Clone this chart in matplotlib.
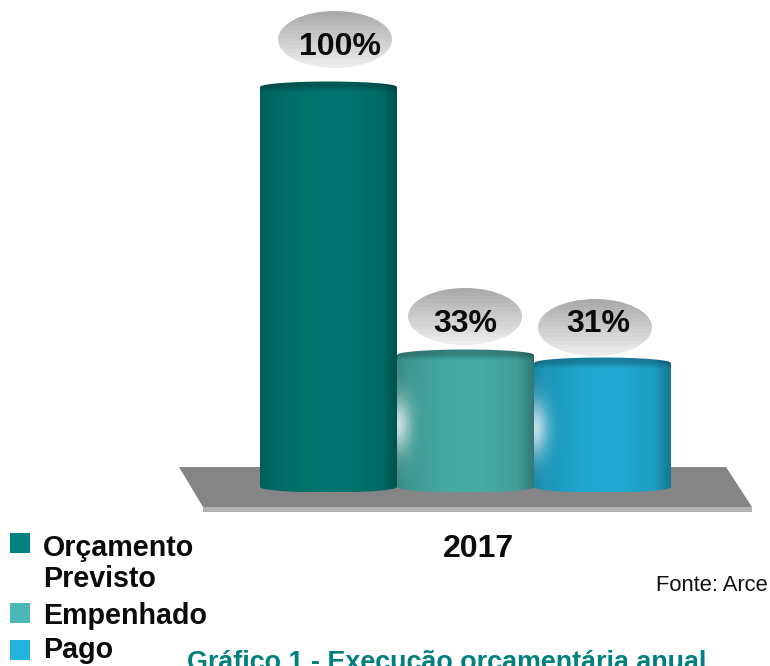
import numpy as np
import matplotlib
matplotlib.use("Agg")
import matplotlib.pyplot as plt
from matplotlib.patches import Ellipse, Polygon, Rectangle

plt.rcParams['font.family'] = ['Liberation Sans', 'DejaVu Sans']

# data
years = ["2017"]
categories = ["Orçamento\nPrevisto", "Empenhado", "Pago"]
values = [100, 33, 31]
value_labels = ["100%", "33%", "31%"]
bar_colors = [(0, 118, 112), (70, 172, 166), (32, 170, 210)]
legend_colors = ["#00807e", "#4ab8b6", "#22b4dc"]

W, H = 770, 666
BASE_PX = 487
PX_PER_VALUE = 4.0
BAR_PX = 137
FIRST_PX = 328.5
CAP_PX = 5.5

fig = plt.figure(figsize=(W / 100, H / 100), dpi=100, facecolor="white")

# pixel axes for the floor
pix = fig.add_axes([0, 0, 1, 1], zorder=1)
pix.set_xlim(0, W)
pix.set_ylim(H, 0)
pix.axis("off")

pix.add_patch(Polygon([(179, 467), (726, 467), (752, 507), (203, 507)], closed=True,
                      fc="#858585", ec="none"))
pix.add_patch(Rectangle((203, 507), 549, 5, fc="#b2b2b2", ec="none"))

# chart axes, x in bars and y in percent
ax = fig.add_axes([0, 0, 1, 1], zorder=2)
ax.patch.set_alpha(0)
ax.axis("off")

cap = CAP_PX / PX_PER_VALUE
for i, (value, color) in enumerate(zip(values, bar_colors)):
    left, right = i - 0.5, i + 0.5
    u = np.linspace(-1, 1, 137)
    arc = np.sqrt(1 - u ** 2)
    outline = list(zip(i + u / 2, value + cap * arc)) + list(zip((i + u / 2)[::-1], (-cap * arc)[::-1]))
    shape = Polygon(outline, closed=True, transform=ax.transData, fc="none", ec="none")
    ax.add_patch(shape)

    rows = np.linspace(value + cap, -cap, int((value + 2 * cap) * PX_PER_VALUE))
    uu, yy = np.meshgrid(u, rows)
    t = (uu + 1) / 2
    shade = np.interp(t, [0, 0.08, 0.35, 0.6, 0.88, 1], [0.8, 0.88, 0.98, 1.0, 0.92, 0.7])
    rgb = np.array(color)[None, None, :] * shade[:, :, None]
    # dark top of the cylinder, fades out just under the rim
    fade = np.clip((value + 0.2 - yy) / 1.6, 0, 1)
    rgb = rgb * (0.76 + 0.24 * fade[:, :, None])
    if i > 0:
        # shine on the left side of the short bars
        glow_y = value * 0.47
        d = (t / 0.1) ** 2 + ((yy - glow_y) * PX_PER_VALUE / 28) ** 2
        glow = np.exp(-d)[:, :, None] * 0.72
        rgb = rgb * (1 - glow) + 255 * glow
    im = ax.imshow(np.clip(rgb, 0, 255).astype(np.uint8), extent=(left, right, -cap, value + cap),
                   aspect="auto", interpolation="bilinear", zorder=2)
    im.set_clip_path(shape)

ax.set_xlim(-FIRST_PX / BAR_PX, (W - FIRST_PX) / BAR_PX)
ax.set_ylim(-(H - BASE_PX) / PX_PER_VALUE, BASE_PX / PX_PER_VALUE)

# top layer for the value bubbles and all text
top = fig.add_axes([0, 0, 1, 1], zorder=3)
top.patch.set_alpha(0)
top.axis("off")

bubbles = [(335, 39.5, 340), (465, 316.5, 465), (595, 327.5, 598)]
text_y = [55, 332, 332]
bands = np.linspace(170, 236, 15).reshape(-1, 1)
for (cx, cy, tx), ty, label in zip(bubbles, text_y, value_labels):
    e = Ellipse((cx, cy), 114, 57, fc="none", ec="none")
    top.add_patch(e)
    im = top.imshow(bands, cmap="gray", vmin=0, vmax=255, aspect="auto", interpolation="nearest",
                    extent=(cx - 57, cx + 57, cy + 28.5, cy - 28.5))
    im.set_clip_path(e)
    top.text(tx, ty, label, fontsize=23, fontweight="bold", color="#0a0a0a", ha="center", va="baseline")
top.set_xlim(0, W)
top.set_ylim(H, 0)

top.text(478, 557, years[0], fontsize=23, fontweight="bold", color="#0a0a0a", ha="center", va="baseline")
top.text(768, 591, "Fonte: Arce", fontsize=15.8, color="#111111", ha="right", va="baseline")
top.text(187, 670, "Gráfico 1 - Execução orçamentária anual", fontsize=19.35, fontweight="bold",
         color="#00807e", ha="left", va="baseline", clip_on=False)

swatch_y = [533, 603, 640]
text_lines = [(556, "Orçamento"), (587, "Previsto"), (624, "Empenhado"), (658, "Pago")]
for y, c in zip(swatch_y, legend_colors):
    top.add_patch(Rectangle((10, y), 20, 20, fc=c, ec="none"))
for y, line in text_lines:
    top.text(43, y, line, fontsize=20.6, fontweight="bold", color="#0a0a0a", ha="left", va="baseline")

fig.savefig("out.png", dpi=100)
